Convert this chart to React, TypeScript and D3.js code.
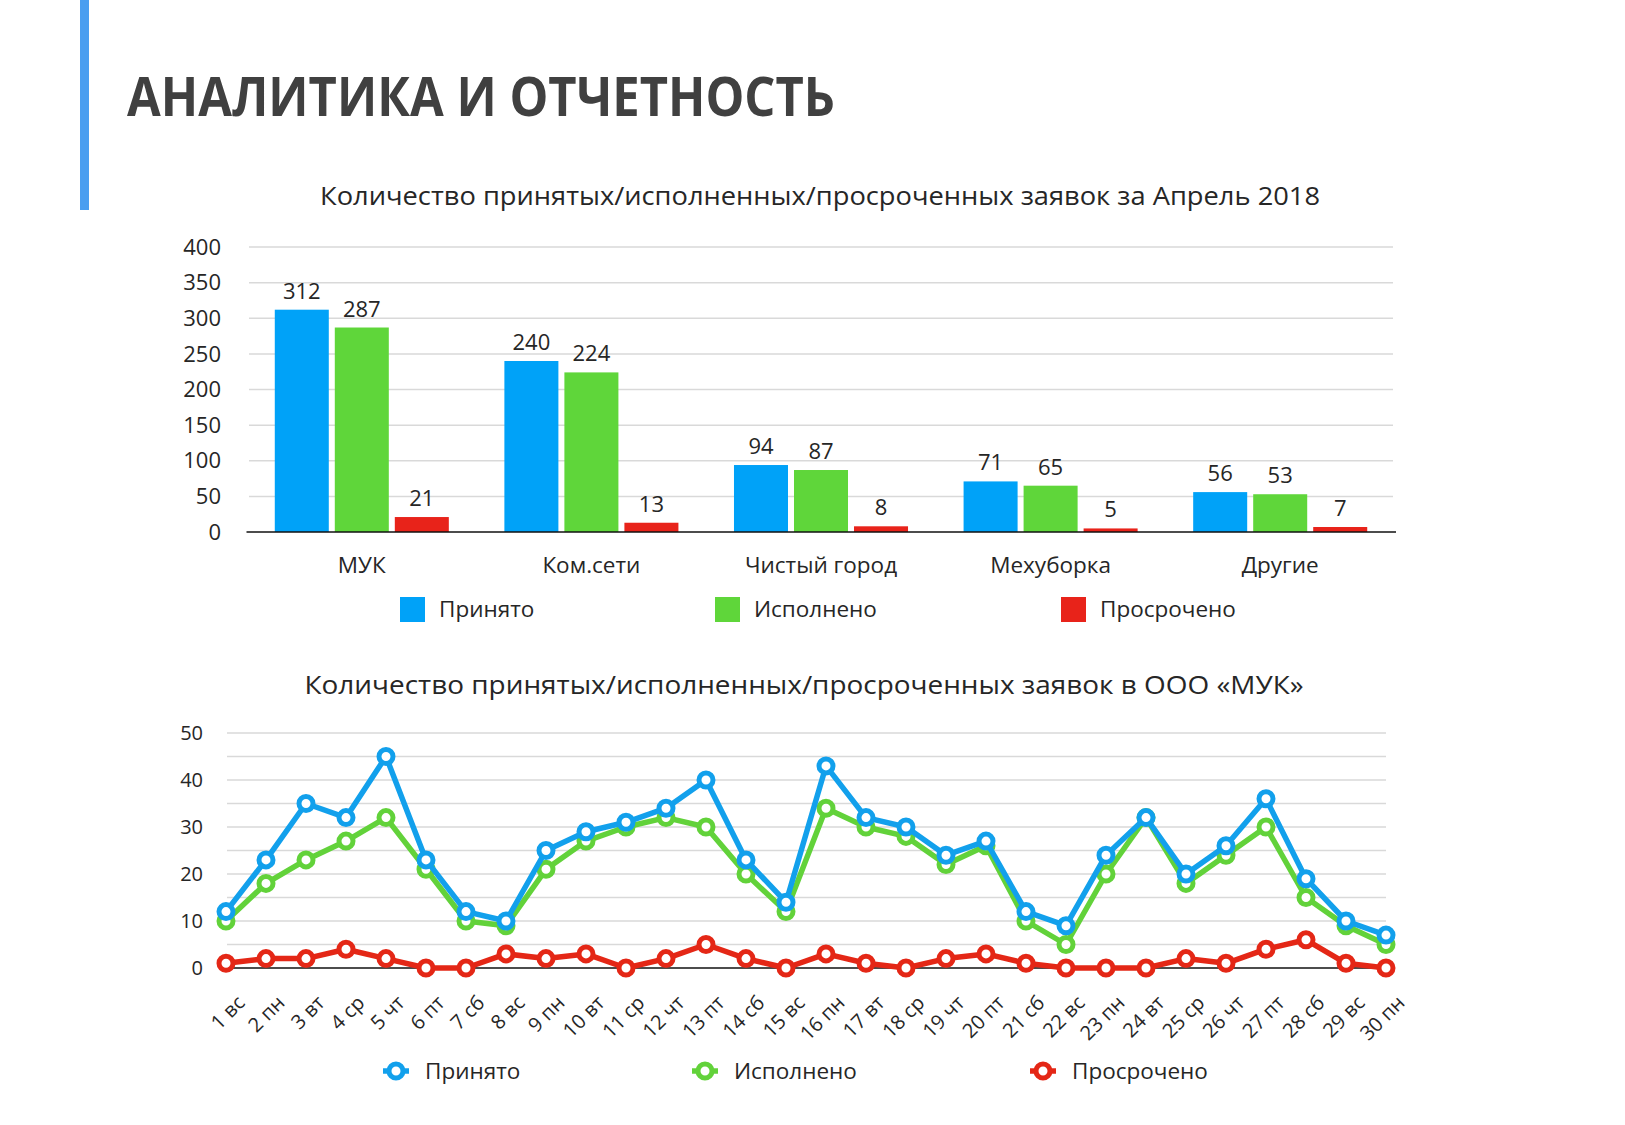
import * as d3 from "d3";

// bar chart data
const companies = ["МУК", "Ком.сети", "Чистый город", "Мехуборка", "Другие"];
const accepted = [312, 240, 94, 71, 56];
const done = [287, 224, 87, 65, 53];
const overdue = [21, 13, 8, 5, 7];
const barTicks = [0, 50, 100, 150, 200, 250, 300, 350, 400];

// line chart data (days of April 2018)
const days = [
    "1 вс", "2 пн", "3 вт", "4 ср", "5 чт", "6 пт", "7 сб", "8 вс", "9 пн", "10 вт",
    "11 ср", "12 чт", "13 пт", "14 сб", "15 вс", "16 пн", "17 вт", "18 ср", "19 чт", "20 пт",
    "21 сб", "22 вс", "23 пн", "24 вт", "25 ср", "26 чт", "27 пт", "28 сб", "29 вс", "30 пн",
];
const dayAccepted = [12, 23, 35, 32, 45, 23, 12, 10, 25, 29, 31, 34, 40, 23, 14, 43, 32, 30, 24, 27, 12, 9, 24, 32, 20, 26, 36, 19, 10, 7];
const dayDone = [10, 18, 23, 27, 32, 21, 10, 9, 21, 27, 30, 32, 30, 20, 12, 34, 30, 28, 22, 26, 10, 5, 20, 32, 18, 24, 30, 15, 9, 5];
const dayOverdue = [1, 2, 2, 4, 2, 0, 0, 3, 2, 3, 0, 2, 5, 2, 0, 3, 1, 0, 2, 3, 1, 0, 0, 0, 2, 1, 4, 6, 1, 0];
const lineTicks = [0, 10, 20, 30, 40, 50];
const lineGrid = [5, 10, 15, 20, 25, 30, 35, 40, 45, 50];

const seriesNames = ["Принято", "Исполнено", "Просрочено"];
const barColors = ["#00A2F8", "#5FD63A", "#E8231A"];
const lineColors = ["#12A0EC", "#62D23A", "#E42716"];

const FONT = "'Open Sans', 'DejaVu Sans', sans-serif";
const TEXT = "#262626";

function BarChart() {
    const x0 = d3.scaleBand<string>()
        .domain(companies)
        .range([247, 1395])
        .paddingInner(0.242)
        .paddingOuter(0.121);
    const x1 = d3.scaleBand<number>()
        .domain([0, 1, 2])
        .range([0, x0.bandwidth()])
        .paddingInner(0.1);
    const y = d3.scaleLinear().domain([0, 400]).range([532, 247]);
    const series = [accepted, done, overdue];
    const legendX = [400, 715, 1061];

    return (
        <g>
            <text x={820} y={205} textAnchor="middle" fontSize={25} fill={TEXT}
                  textLength={1000} lengthAdjust="spacingAndGlyphs">
                Количество принятых/исполненных/просроченных заявок за Апрель 2018
            </text>
            {barTicks.map(t => (
                <g key={t}>
                    {t > 0 && <line x1={249} x2={1393} y1={y(t)} y2={y(t)} stroke="#d9d9d9" strokeWidth={1.5} />}
                    <text x={221} y={y(t)} dy="0.35em" textAnchor="end" fontSize={22} fill={TEXT}>{t}</text>
                </g>
            ))}
            {companies.map((c, ci) => (
                <g key={c} transform={`translate(${x0(c)},0)`}>
                    {series.map((s, si) => (
                        <g key={si}>
                            <rect x={x1(si)} y={y(s[ci])} width={x1.bandwidth()} height={y(0) - y(s[ci])} fill={barColors[si]} />
                            <text x={(x1(si) || 0) + x1.bandwidth() / 2} y={y(s[ci]) - 11} textAnchor="middle" fontSize={22} fill={TEXT}>
                                {s[ci]}
                            </text>
                        </g>
                    ))}
                    <text x={x0.bandwidth() / 2} y={573} textAnchor="middle" fontSize={22.5} fill={TEXT}>{c}</text>
                </g>
            ))}
            <line x1={246.5} x2={1396} y1={y(0)} y2={y(0)} stroke="#111" strokeWidth={1.6} />
            {seriesNames.map((n, i) => (
                <g key={n}>
                    <rect x={legendX[i]} y={597} width={25} height={25} fill={barColors[i]} />
                    <text x={legendX[i] + 39} y={617} fontSize={22.5} fill={TEXT}>{n}</text>
                </g>
            ))}
        </g>
    );
}

function LineChart() {
    const x = d3.scalePoint<string>().domain(days).range([226, 1386]);
    const y = d3.scaleLinear().domain([0, 50]).range([968, 733]);
    const series = [dayAccepted, dayDone, dayOverdue];
    const line = d3.line<number>()
        .x((_, i) => x(days[i]) || 0)
        .y(d => y(d));
    const legendX = [396, 705, 1043];

    return (
        <g>
            <text x={804} y={694} textAnchor="middle" fontSize={25} fill={TEXT}
                  textLength={999} lengthAdjust="spacingAndGlyphs">
                Количество принятых/исполненных/просроченных заявок в ООО «МУК»
            </text>
            {lineGrid.map(t => (
                <line key={t} x1={227} x2={1386} y1={y(t)} y2={y(t)} stroke="#d9d9d9" strokeWidth={1.5} />
            ))}
            {lineTicks.map(t => (
                <text key={t} x={203} y={y(t)} dy="0.35em" textAnchor="end" fontSize={20} fill={TEXT}>{t}</text>
            ))}
            <line x1={226} x2={1386} y1={y(0)} y2={y(0)} stroke="#111" strokeWidth={1.6} />
            {days.map(d => (
                <text key={d} transform={`translate(${(x(d) || 0) + 20},${1004}) rotate(-45)`}
                      textAnchor="end" fontSize={20} fill={TEXT}>{d}</text>
            ))}
            {[2, 1, 0].map(si => (
                <g key={si}>
                    <path d={line(series[si]) || ""} fill="none" stroke={lineColors[si]} strokeWidth={5.5} strokeLinejoin="round" />
                    {series[si].map((v, i) => (
                        <circle key={i} cx={x(days[i])} cy={y(v)} r={7} fill="#fff" stroke={lineColors[si]} strokeWidth={5} />
                    ))}
                </g>
            ))}
            {seriesNames.map((n, i) => (
                <g key={n}>
                    <line x1={legendX[i] - 13} x2={legendX[i] + 13} y1={1071} y2={1071} stroke={lineColors[i]} strokeWidth={5.5} />
                    <circle cx={legendX[i]} cy={1071} r={7} fill="#fff" stroke={lineColors[i]} strokeWidth={5} />
                    <text x={legendX[i] + 29} y={1079} fontSize={22.5} fill={TEXT}>{n}</text>
                </g>
            ))}
        </g>
    );
}

export default function App() {
    return (
        <svg width={1625} height={1125} style={{ position: "absolute", left: 0, top: 0, background: "#fff" }}
             fontFamily={FONT}>
            <rect x={0} y={0} width={1625} height={1125} fill="#fff" />
            <rect x={80} y={0} width={9} height={210} fill="#4A9EF0" />
            <text x={127} y={116} fontSize={53} fontWeight={700} fill="#404040"
                  textLength={708} lengthAdjust="spacingAndGlyphs">
                АНАЛИТИКА И ОТЧЕТНОСТЬ
            </text>
            <BarChart />
            <LineChart />
        </svg>
    );
}
